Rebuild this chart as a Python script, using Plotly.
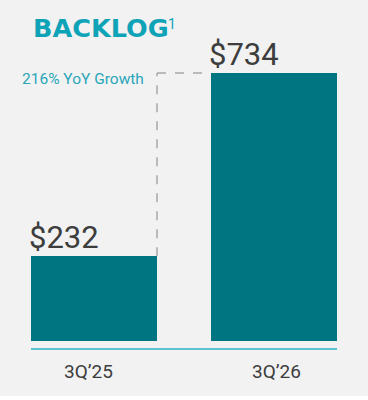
import plotly.graph_objects as go

categories = ["3Q’25", "3Q’26"]
values = [232, 734]
value_labels = ["$232", "$734"]
growth_label = "216% YoY Growth"
title_text = "BACKLOG"
title_note = "1"

BAR_W = 0.7
BAR_COLOR = "#007582"
TEXT_GRAY = "#3d3d3d"
CYAN = "#0fa3b8"

# plot area geometry (pixels)
L, R, T, B = 31, 31, 0, 52
W, H = 368, 400
PW, PH = W - L - R, H - T - B


def px_to_paper_x(px):
    return (px - L) / PW


def px_to_paper_y(py):
    return (H - B - py) / PH


xs = list(range(len(categories)))

fig = go.Figure()
fig.add_trace(go.Bar(x=xs, y=values, width=BAR_W, marker=dict(color=BAR_COLOR, line=dict(width=0)),
                     hoverinfo="skip"))

# value labels, left aligned at bar's left edge
for xi, v, lab in zip(xs, values, value_labels):
    fig.add_annotation(x=xi - BAR_W / 2, y=v, xref="x", yref="y", text=lab, showarrow=False,
                       xanchor="left", yanchor="bottom", yshift=-2, xshift=-4,
                       font=dict(family="Roboto", size=31, color=TEXT_GRAY))

# dashed connector
x_right1 = xs[0] + BAR_W / 2
x_left2 = xs[1] - BAR_W / 2 - 0.045
fig.add_shape(type="line", xref="x", yref="y", x0=x_right1, x1=x_right1, y0=values[0], y1=values[1],
              line=dict(color="#a8a8a8", width=1.5, dash="dash"))
fig.add_shape(type="line", xref="x", yref="y", x0=x_right1, x1=x_left2, y0=values[1], y1=values[1],
              line=dict(color="#a8a8a8", width=1.5, dash="dash"))

fig.add_annotation(x=x_right1, y=values[1], xref="x", yref="y", text=growth_label, showarrow=False,
                   xanchor="right", yanchor="middle", xshift=-11, yshift=-6,
                   font=dict(family="Roboto", size=15.5, color="#2aa6ba"))

# category labels
for xi, cat, dx in zip(xs, categories, [-6, 2]):
    fig.add_annotation(x=xi, y=px_to_paper_y(372), xref="x", yref="paper", text=cat, showarrow=False,
                       xanchor="center", yanchor="middle", xshift=dx,
                       font=dict(family="Roboto", size=19, color=TEXT_GRAY))

# title
fig.add_annotation(x=px_to_paper_x(31), y=px_to_paper_y(11), xref="paper", yref="paper",
                   text=title_text, showarrow=False, xanchor="left", yanchor="top",
                   font=dict(family="DejaVu Sans", size=25.5, color=CYAN, weight="bold"))
fig.add_annotation(x=px_to_paper_x(166), y=px_to_paper_y(14), xref="paper", yref="paper",
                   text=title_note, showarrow=False, xanchor="left", yanchor="top",
                   font=dict(family="Roboto", size=14, color=CYAN))

# white strip at bottom
fig.add_shape(type="rect", xref="paper", yref="paper", x0=px_to_paper_x(-10), x1=px_to_paper_x(W + 10),
              y0=px_to_paper_y(H + 10), y1=px_to_paper_y(396),
              line=dict(width=0), fillcolor="white", layer="below")

ymin = -19.2
scale = 0.365
fig.update_layout(
    width=W, height=H,
    margin=dict(l=L, r=R, t=T, b=B),
    paper_bgcolor="#f2f2f2", plot_bgcolor="#f2f2f2",
    showlegend=False,
    bargap=0,
    xaxis=dict(range=[-BAR_W / 2, 1 + BAR_W / 2], showticklabels=False,
               showline=True, linecolor="#5ec3d0", linewidth=2, showgrid=False, zeroline=False,
               ticks="", fixedrange=True),
    yaxis=dict(range=[ymin, ymin + PH / scale], visible=False, showgrid=False, zeroline=False,
               fixedrange=True),
)
fig.write_html("out.html")
